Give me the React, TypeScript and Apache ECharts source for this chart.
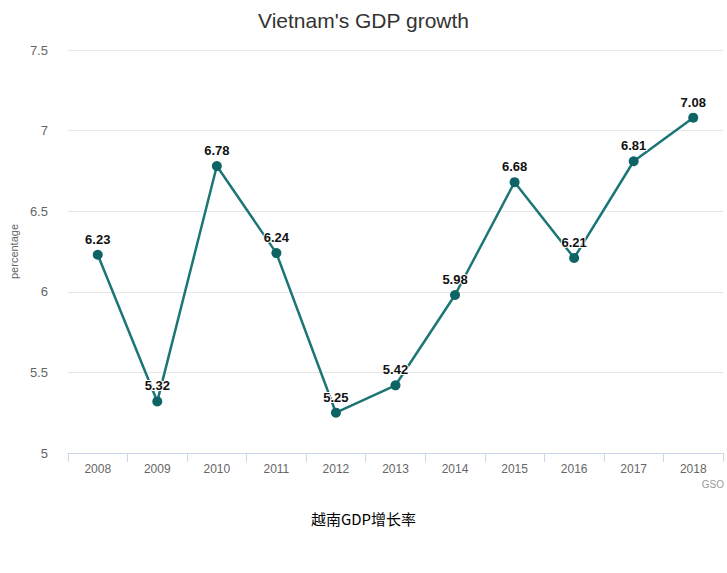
import React, { useEffect, useRef } from "react";
import * as echarts from "echarts";

const years = ["2008", "2009", "2010", "2011", "2012", "2013", "2014", "2015", "2016", "2017", "2018"];
const growth = [6.23, 5.32, 6.78, 6.24, 5.25, 5.42, 5.98, 6.68, 6.21, 6.81, 7.08];
const titleText = "Vietnam's GDP growth";
const yAxisName = "percentage";
const creditText = "GSO";
const captionText = "越南GDP增长率";

export default function App() {
  const ref = useRef<HTMLDivElement>(null);
  useEffect(() => {
    if (!ref.current) return;
    const chart = echarts.init(ref.current, undefined, { renderer: "svg" });
    chart.setOption({
      animation: false,
      backgroundColor: "#ffffff",
      title: {
        text: titleText,
        left: "center",
        top: 5,
        textStyle: { fontFamily: "Liberation Sans", fontSize: 21, fontWeight: "normal", color: "#333333" },
      },
      grid: { left: 63, right: 4, top: 50, bottom: 120 },
      xAxis: {
        type: "category",
        data: years,
        boundaryGap: true,
        axisLine: { lineStyle: { color: "#ccd6eb", width: 1 } },
        axisTick: { show: true, length: 9, lineStyle: { color: "#ccd6eb" } },
        axisLabel: { color: "#666666", fontFamily: "Liberation Sans", fontSize: 12, margin: 10 },
      },
      yAxis: {
        type: "value",
        min: 5,
        max: 7.5,
        interval: 0.5,
        name: yAxisName,
        nameLocation: "middle",
        nameGap: 47,
        nameTextStyle: { color: "#666666", fontFamily: "Liberation Sans", fontSize: 11 },
        axisLine: { show: false },
        axisTick: { show: false },
        splitLine: { lineStyle: { color: "#e6e6e6", width: 1 } },
        axisLabel: { color: "#666666", fontFamily: "Liberation Sans", fontSize: 13, margin: 20 },
      },
      series: [
        {
          type: "line",
          data: growth,
          symbol: "circle",
          symbolSize: 10,
          lineStyle: { color: "#1d7676", width: 2.5 },
          itemStyle: { color: "#0e6464" },
          label: {
            show: true,
            position: "top",
            distance: 4,
            color: "#111111",
            fontFamily: "Liberation Sans",
            fontWeight: "bold",
            fontSize: 13,
            textBorderColor: "#ffffff",
            textBorderWidth: 2,
          },
        },
      ],
      graphic: [
        {
          type: "text",
          right: 3,
          top: 479,
          style: { text: creditText, fill: "#999999", font: "10px Liberation Sans" },
        },
        {
          type: "text",
          left: "center",
          top: 511,
          style: { text: captionText, fill: "#000000", font: "15px 'Noto Sans CJK SC'" },
        },
      ],
    });
    return () => chart.dispose();
  }, []);
  return <div ref={ref} style={{ position: "fixed", left: 0, top: 0, width: 727, height: 573 }} />;
}
